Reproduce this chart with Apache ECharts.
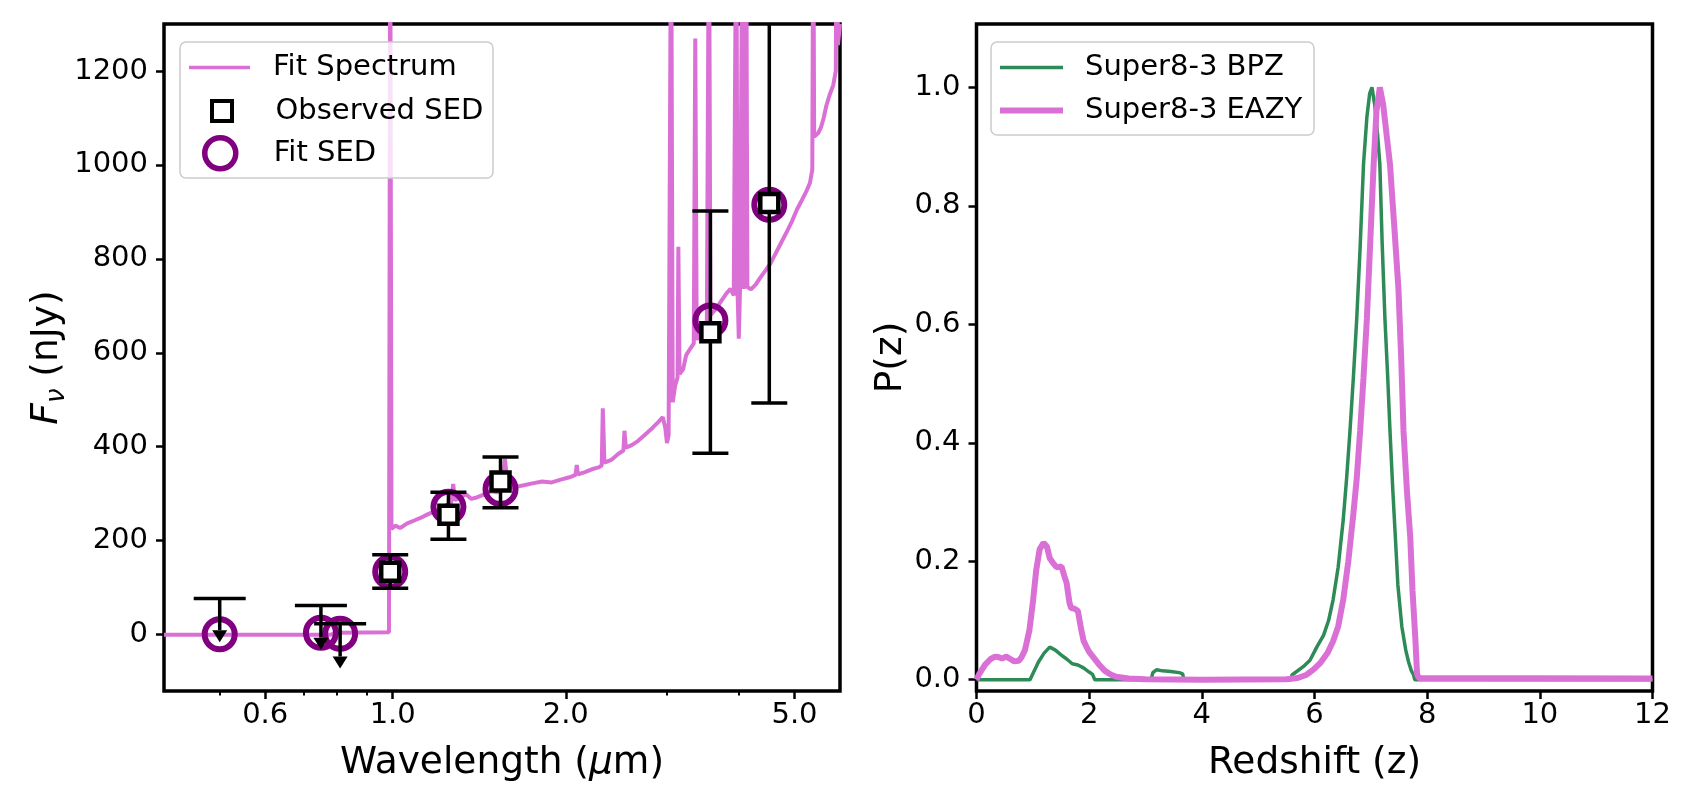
<!DOCTYPE html>
<html>
<head>
<meta charset="utf-8">
<script src="https://cdn.jsdelivr.net/npm/echarts@6/dist/echarts.min.js"></script>
<style>
  html, body { margin: 0; padding: 0; background: #fff; }
  #chart { width: 1692px; height: 788px; }
</style>
</head>
<body>
<div id="chart"></div>
<script>
// ---- left panel: SED fit ----
const specWave = [0.40, 0.78, 0.80, 0.985, 0.990, 0.995, 1.01, 1.03, 1.06, 1.09, 1.12, 1.15, 1.18, 1.21, 1.24,
  1.265, 1.274, 1.283, 1.31, 1.34, 1.37, 1.40, 1.44, 1.48, 1.52, 1.55, 1.568, 1.585, 1.63, 1.69, 1.75, 1.82,
  1.89, 1.96, 2.03, 2.08, 2.09, 2.10, 2.16, 2.22, 2.28, 2.31, 2.32, 2.335, 2.40, 2.47, 2.52, 2.53, 2.545,
  2.60, 2.67, 2.75, 2.83, 2.90, 2.95, 2.98, 3.00, 3.02, 3.05, 3.07, 3.10, 3.13, 3.14, 3.155, 3.20, 3.24,
  3.29, 3.34, 3.36, 3.38, 3.43, 3.47, 3.52, 3.55, 3.57, 3.63, 3.69, 3.75, 3.81, 3.87, 3.92, 3.96, 3.98,
  4.00, 4.02, 4.06, 4.08, 4.12, 4.14, 4.20, 4.28, 4.36, 4.45, 4.53, 4.62, 4.72, 4.85, 4.95, 5.05, 5.15,
  5.24, 5.32, 5.37, 5.39, 5.41, 5.50, 5.56, 5.62, 5.68, 5.76, 5.84, 5.90, 5.92, 5.95, 6.00];
const specFlux = [0, 0, 4, 5, 1600, 225, 232, 227, 237, 243, 249, 256, 262, 268, 276,
  282, 321, 286, 292, 299, 289, 292, 298, 305, 303, 310, 374, 312, 314, 318, 322, 326,
  324, 330, 335, 340, 361, 341, 346, 352, 356, 360, 482, 366, 372, 385, 392, 434, 398,
  403, 412, 426, 440, 453, 463, 440, 408, 425, 1600, 495, 530, 548, 826, 555, 565, 595,
  608, 620, 1269, 628, 640, 655, 668, 1600, 680, 690, 702, 715, 727, 736, 722, 1600, 732,
  630, 736, 1600, 736, 1600, 740, 735, 745, 760, 775, 788, 808, 830, 858, 880, 905, 925,
  943, 962, 990, 1600, 1060, 1068, 1080, 1100, 1126, 1150, 1170, 1200, 1600, 1255, 1300];

const fitWave = [0.50, 0.75, 0.81, 0.99, 1.25, 1.54, 3.57, 4.52];
const fitFlux = [1, 4, 2, 134, 272, 310, 669, 915];

const obsWave = [0.99, 1.25, 1.54, 3.57, 4.52];
const obsFlux = [134, 255, 326, 644, 919];
const obsLow = [99, 203, 270, 386, 493];
const obsHigh = [170, 303, 378, 902, 1345];

const limWave = [0.50, 0.75, 0.81];
const limTop = [77, 62, 23];
const limTip = [-16, -32, -72];

const waveTicks = [0.6, 1.0, 2.0, 5.0];
const waveMinor = [0.5, 0.7, 0.8, 0.9, 3, 4];
const fluxTicks = [0, 200, 400, 600, 800, 1000, 1200];

// ---- right panel: P(z) ----
const bpzZ = [0, 0.95, 1.0, 1.1, 1.2, 1.3, 1.4, 1.5, 1.6, 1.7, 1.8, 1.9, 2.0, 2.06, 2.1,
  3.1, 3.13, 3.2, 3.3, 3.45, 3.6, 3.66, 3.68, 5.58, 5.6, 5.8, 5.92, 6.04, 6.16, 6.25, 6.33, 6.42,
  6.51, 6.57, 6.63, 6.69, 6.75, 6.81, 6.87, 6.93, 6.98, 7.02, 7.07, 7.12, 7.16, 7.2, 7.25, 7.3,
  7.34, 7.39, 7.43, 7.48, 7.55, 7.62, 7.67, 7.72, 7.76, 7.78, 12];
const bpzP = [0, 0, 0.01, 0.03, 0.045, 0.055, 0.05, 0.042, 0.035, 0.027, 0.025, 0.02, 0.013, 0.009, 0,
  0, 0.012, 0.017, 0.015, 0.014, 0.012, 0.01, 0, 0, 0.008, 0.022, 0.033, 0.055, 0.075, 0.1, 0.135, 0.19,
  0.27, 0.34, 0.42, 0.51, 0.61, 0.73, 0.87, 0.95, 0.99, 1.0, 0.97, 0.92, 0.87, 0.74, 0.61, 0.51,
  0.42, 0.32, 0.25, 0.16, 0.09, 0.05, 0.03, 0.015, 0.008, 0, 0];

const eazyZ = [0, 0.05, 0.15, 0.25, 0.33, 0.4, 0.45, 0.53, 0.6, 0.67, 0.75, 0.8, 0.86, 0.94, 1.0, 1.06,
  1.12, 1.19, 1.25, 1.3, 1.36, 1.42, 1.51, 1.56, 1.6, 1.65, 1.68, 1.74, 1.8, 1.83, 1.86, 1.9, 1.95,
  2.0, 2.09, 2.18, 2.28, 2.38, 2.48, 2.7, 3.0, 4.0, 5.5, 5.7, 5.85, 5.98, 6.1, 6.23, 6.33, 6.42, 6.51,
  6.6, 6.69, 6.75, 6.81, 6.87, 6.93, 6.99, 7.05, 7.1, 7.16, 7.22, 7.28, 7.34, 7.42, 7.49, 7.54, 7.58,
  7.64, 7.7, 7.74, 7.79, 7.82, 7.85, 12];
const eazyP = [0, 0.01, 0.025, 0.035, 0.039, 0.038, 0.036, 0.039, 0.035, 0.031, 0.032, 0.038, 0.05, 0.084, 0.13, 0.185,
  0.22, 0.231, 0.225, 0.205, 0.197, 0.19, 0.191, 0.175, 0.163, 0.13, 0.121, 0.12, 0.116, 0.1, 0.084, 0.066, 0.056,
  0.047, 0.036, 0.025, 0.015, 0.009, 0.005, 0.002, 0.001, 0, 0.001, 0.003, 0.008, 0.017, 0.028, 0.045, 0.065, 0.09, 0.135,
  0.2, 0.28, 0.34, 0.42, 0.51, 0.61, 0.74, 0.87, 0.96, 1.0, 0.97, 0.92, 0.87, 0.76, 0.66, 0.54, 0.42,
  0.32, 0.24, 0.15, 0.07, 0.01, 0.003, 0.002];

const pzTicks = [0, 0.2, 0.4, 0.6, 0.8, 1.0];

const FONT = 'DejaVu Sans';
const ORCHID = '#DA70D6';
const PURPLE = '#800080';
const GREEN = '#2E8B57';

const pairs = (xs, ys) => xs.map((x, i) => [x, ys[i]]);

function errorBars(params, api) {
  const x = api.value(0);
  const lo = api.coord([x, api.value(1)]);
  const hi = api.coord([x, api.value(2)]);
  const w = 18;
  const st = { stroke: '#000', lineWidth: 3.5 };
  return {
    type: 'group',
    children: [
      { type: 'line', shape: { x1: lo[0], y1: lo[1], x2: hi[0], y2: hi[1] }, style: st },
      { type: 'line', shape: { x1: lo[0] - w, y1: lo[1], x2: lo[0] + w, y2: lo[1] }, style: st },
      { type: 'line', shape: { x1: hi[0] - w, y1: hi[1], x2: hi[0] + w, y2: hi[1] }, style: st }
    ]
  };
}

function upperLimits(params, api) {
  const x = api.value(0);
  const top = api.coord([x, api.value(1)]);
  const tip = api.coord([x, api.value(2)]);
  const w = 26, ah = 12, aw = 7.5;
  const st = { stroke: '#000', lineWidth: 3.5 };
  return {
    type: 'group',
    children: [
      { type: 'line', shape: { x1: top[0] - w, y1: top[1], x2: top[0] + w, y2: top[1] }, style: st },
      { type: 'line', shape: { x1: top[0], y1: top[1], x2: tip[0], y2: tip[1] - ah }, style: st },
      { type: 'polygon', shape: { points: [[tip[0] - aw, tip[1] - ah], [tip[0] + aw, tip[1] - ah], [tip[0], tip[1]]] },
        style: { fill: '#000' } }
    ]
  };
}

const tickLabel = { fontSize: 29, color: '#000', fontFamily: FONT };
const nameStyle = { fontSize: 37.5, color: '#000', fontFamily: FONT };

function legendRow(name, left, top, icon, h, style) {
  return {
    data: [{ name: name, icon: icon, itemStyle: style }],
    left: left, top: top, itemWidth: 97, itemHeight: h, padding: 0,
    symbolKeepAspect: true, selectedMode: false, z: 10,
    textStyle: { fontSize: 29, color: '#000', fontFamily: FONT }
  };
}

const chart = echarts.init(document.getElementById('chart'), null, { renderer: 'canvas' });
chart.setOption({
  backgroundColor: '#fff',
  animation: false,
  textStyle: { fontFamily: FONT },
  grid: [
    { left: 164, top: 24, width: 676, height: 667, show: true, borderColor: '#000', borderWidth: 3.5, backgroundColor: 'transparent' },
    { left: 976.5, top: 24, width: 676, height: 667, show: true, borderColor: '#000', borderWidth: 3.5, backgroundColor: 'transparent' }
  ],
  xAxis: [
    {
      gridIndex: 0, type: 'log', logBase: 10, min: 0.4, max: 6.0, position: 'bottom',
      axisLine: { show: false, onZero: false },
      axisTick: { show: true, length: 8, lineStyle: { color: '#000', width: 2.5 }, customValues: waveTicks },
      axisLabel: Object.assign({ customValues: waveTicks, margin: 10, formatter: v => Number(v).toFixed(1) }, tickLabel),
      splitLine: { show: false }, minorTick: { show: false }, minorSplitLine: { show: false },
      name: 'Wavelength ({i|μ}m)', nameLocation: 'middle', nameGap: 53,
      nameTextStyle: Object.assign({ rich: { i: Object.assign({ fontStyle: 'italic' }, nameStyle) } }, nameStyle)
    },
    {
      gridIndex: 0, type: 'log', logBase: 10, min: 0.4, max: 6.0, position: 'bottom',
      axisLine: { show: false, onZero: false },
      axisTick: { show: true, length: 4.5, lineStyle: { color: '#000', width: 2 }, customValues: waveMinor },
      axisLabel: { show: false }, splitLine: { show: false }
    },
    {
      gridIndex: 1, type: 'value', min: 0, max: 12, interval: 2, position: 'bottom',
      axisLine: { show: false, onZero: false },
      axisTick: { show: true, length: 8, lineStyle: { color: '#000', width: 2.5 } },
      axisLabel: Object.assign({ margin: 10 }, tickLabel),
      splitLine: { show: false },
      name: 'Redshift (z)', nameLocation: 'middle', nameGap: 53, nameTextStyle: nameStyle
    }
  ],
  yAxis: [
    {
      gridIndex: 0, type: 'value', min: -120, max: 1300, position: 'left',
      axisLine: { show: false, onZero: false },
      axisTick: { show: true, length: 8, lineStyle: { color: '#000', width: 2.5 }, customValues: fluxTicks },
      axisLabel: Object.assign({ customValues: fluxTicks, margin: 16, formatter: v => String(v) }, tickLabel),
      splitLine: { show: false },
      name: '{i|F}{s|ν} (nJy)', nameLocation: 'middle', nameRotate: 90, nameGap: 79,
      nameTextStyle: Object.assign({
        rich: {
          i: Object.assign({ fontStyle: 'italic' }, nameStyle),
          s: { fontSize: 26, fontStyle: 'italic', color: '#000', fontFamily: FONT, padding: [20, 0, 0, 0] }
        }
      }, nameStyle)
    },
    {
      gridIndex: 1, type: 'value', min: -0.019, max: 1.107, position: 'left',
      axisLine: { show: false, onZero: false },
      axisTick: { show: true, length: 8, lineStyle: { color: '#000', width: 2.5 }, customValues: pzTicks },
      axisLabel: Object.assign({ customValues: pzTicks, margin: 16, formatter: v => Number(v).toFixed(1) }, tickLabel),
      splitLine: { show: false },
      name: 'P(z)', nameLocation: 'middle', nameRotate: 90, nameGap: 65, nameTextStyle: nameStyle
    }
  ],
  legend: [
    legendRow('Fit Spectrum', 189, 53, 'path://M0,0h61v3.5h-61z', 3.5, { color: ORCHID, borderWidth: 0 }),
    legendRow('Observed SED', 210, 96.5, 'path://M0,0h10v10h-10z', 20, { color: '#fff', borderColor: '#000', borderWidth: 4 }),
    legendRow('Fit SED', 202, 135, 'circle', 31, { color: 'rgba(0,0,0,0)', borderColor: PURPLE, borderWidth: 5.5 }),
    legendRow('Super8-3 BPZ', 1000, 53, 'path://M0,0h63v3.5h-63z', 3.5, { color: GREEN, borderWidth: 0 }),
    legendRow('Super8-3 EAZY', 1000, 96, 'path://M0,0h63v6h-63z', 6, { color: ORCHID, borderWidth: 0 })
  ],
  graphic: {
    elements: [
      { type: 'rect', z: 6, shape: { x: 180, y: 42, width: 313, height: 136, r: 6 },
        style: { fill: 'rgba(255,255,255,0.8)', stroke: '#cccccc', lineWidth: 1.5 } },
      { type: 'rect', z: 6, shape: { x: 991, y: 42, width: 323, height: 93, r: 6 },
        style: { fill: 'rgba(255,255,255,0.8)', stroke: '#cccccc', lineWidth: 1.5 } }
    ]
  },
  series: [
    {
      name: 'Fit Spectrum', type: 'line', xAxisIndex: 0, yAxisIndex: 0, z: 2,
      data: pairs(specWave, specFlux), showSymbol: false, symbol: 'none',
      itemStyle: { color: ORCHID }, lineStyle: { color: ORCHID, width: 4 }, clip: true
    },
    {
      name: 'Fit SED', type: 'scatter', xAxisIndex: 0, yAxisIndex: 0, z: 3,
      data: pairs(fitWave, fitFlux), symbol: 'circle', symbolSize: 30,
      itemStyle: { color: 'rgba(0,0,0,0)', borderColor: PURPLE, borderWidth: 6, opacity: 1 }
    },
    {
      name: 'errors', type: 'custom', xAxisIndex: 0, yAxisIndex: 0, z: 4, clip: true,
      data: obsWave.map((w, i) => [w, obsLow[i], obsHigh[i]]),
      encode: { x: 0, y: [1, 2] }, renderItem: errorBars
    },
    {
      name: 'limits', type: 'custom', xAxisIndex: 0, yAxisIndex: 0, z: 4, clip: true,
      data: limWave.map((w, i) => [w, limTop[i], limTip[i]]),
      encode: { x: 0, y: [1, 2] }, renderItem: upperLimits
    },
    {
      name: 'Observed SED', type: 'scatter', xAxisIndex: 0, yAxisIndex: 0, z: 5,
      data: pairs(obsWave, obsFlux), symbol: 'rect', symbolSize: 18,
      itemStyle: { color: '#fff', borderColor: '#000', borderWidth: 4.5, opacity: 1 }
    },
    {
      name: 'Super8-3 BPZ', type: 'line', xAxisIndex: 2, yAxisIndex: 1, z: 2,
      data: pairs(bpzZ, bpzP), showSymbol: false, symbol: 'none',
      itemStyle: { color: GREEN }, lineStyle: { color: GREEN, width: 3.5 }, clip: true
    },
    {
      name: 'Super8-3 EAZY', type: 'line', xAxisIndex: 2, yAxisIndex: 1, z: 3,
      data: pairs(eazyZ, eazyP), showSymbol: false, symbol: 'none',
      itemStyle: { color: ORCHID }, lineStyle: { color: ORCHID, width: 6 }, clip: true
    }
  ]
});
</script>
</body>
</html>
